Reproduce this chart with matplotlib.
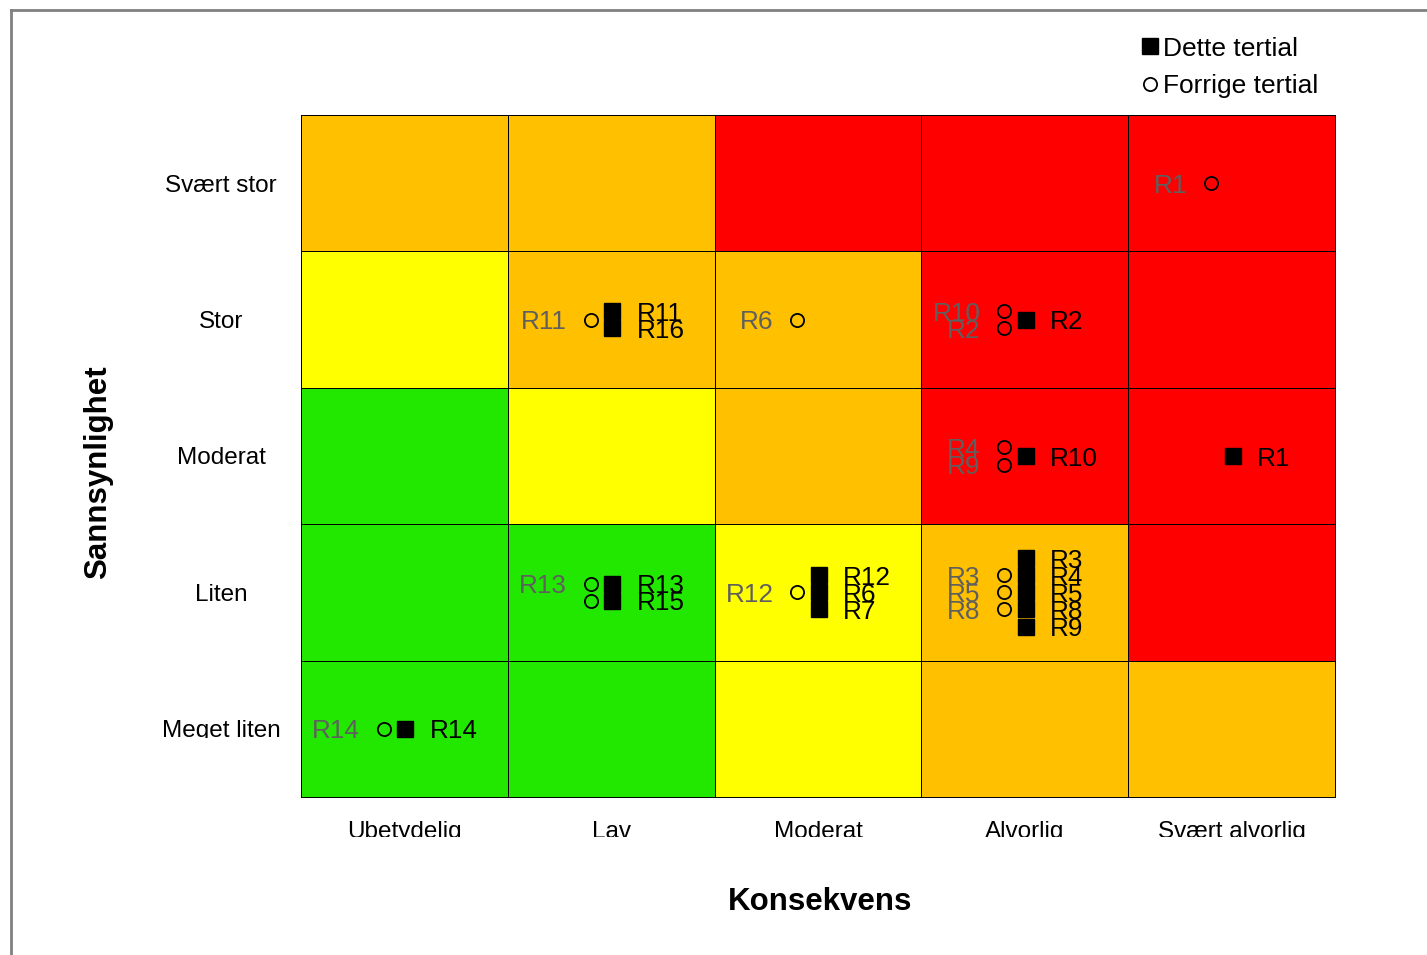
import numpy as np
import matplotlib
matplotlib.use('Agg')
import matplotlib.pyplot as plt
from matplotlib.colors import ListedColormap
from matplotlib.transforms import Bbox, TransformedBbox, blended_transform_factory

plt.rcParams['font.family'] = ['Liberation Sans', 'DejaVu Sans']

# Axes categories
consequence = ['Ubetydelig', 'Lav', 'Moderat', 'Alvorlig', 'Svært alvorlig']
probability = ['Meget liten', 'Liten', 'Moderat', 'Stor', 'Svært stor']

# Cell colour level per row (bottom -> top), per column (left -> right)
# 0 = green, 1 = yellow, 2 = orange, 3 = red
levels = [
    [0, 0, 1, 2, 2],   # Meget liten
    [0, 0, 1, 2, 3],   # Liten
    [0, 1, 2, 3, 3],   # Moderat
    [1, 2, 2, 3, 3],   # Stor
    [2, 2, 3, 3, 3],   # Svært stor
]
level_colors = ['#22E800', '#FFFF00', '#FFC000', '#FF0000']

# Dette tertial: label, consequence (1-5), probability (1-5)
cur_labels = ['R1', 'R2', 'R10', 'R11', 'R16', 'R13', 'R15', 'R12', 'R6', 'R7',
              'R3', 'R4', 'R5', 'R8', 'R9', 'R14']
cur_cons = [5, 4, 4, 2, 2, 2, 2, 3, 3, 3, 4, 4, 4, 4, 4, 1]
cur_prob = [3, 4, 3, 4, 4, 2, 2, 2, 2, 2, 2, 2, 2, 2, 2, 1]

# Forrige tertial
prev_labels = ['R1', 'R10', 'R2', 'R4', 'R9', 'R11', 'R6', 'R13', '', 'R12',
               'R3', 'R5', 'R8', 'R14']
prev_cons = [5, 4, 4, 4, 4, 2, 3, 2, 2, 3, 4, 4, 4, 1]
prev_prob = [5, 4, 4, 3, 3, 4, 4, 2, 2, 2, 2, 2, 2, 1]

DY = 0.125       # vertical step between stacked markers
CIRC_DX = -0.10
SQ_DX = 0.005
GRAY_DX = -0.215
BLACK_DX = 0.122
FS = 17.5        # category labels
FS_R = 18.8      # risk labels


def stacked(cons, prob):
    # position each marker in its cell, stacking duplicates around the centre
    xs, ys = [], []
    for c, p in zip(cons, prob):
        n = sum(1 for c2, p2 in zip(cons, prob) if (c2, p2) == (c, p))
        k = sum(1 for c2, p2 in zip(cons[:len(xs)], prob[:len(xs)]) if (c2, p2) == (c, p))
        xs.append(c - 0.5)
        ys.append(p - 0.5 + ((n - 1) / 2 - k) * DY)
    return np.array(xs), np.array(ys)


fig = plt.figure(figsize=(14.27, 9.55), dpi=100)
W, H = 1427, 955

# gray outer frame
fig.add_artist(plt.Line2D([11 / W, 11 / W], [0, 1 - 10 / H], color='#808080', lw=2))
fig.add_artist(plt.Line2D([11 / W, 1], [1 - 10 / H, 1 - 10 / H], color='#808080', lw=2))

ax = fig.add_axes([301 / W, 1 - 797 / H, 1034 / W, 682 / H])
cmap = ListedColormap(level_colors)
ax.pcolormesh(np.arange(6), np.arange(6), np.array(levels), cmap=cmap, vmin=-0.5, vmax=3.5,
              edgecolors='black', linewidth=0.7)
ax.set_xlim(0, 5)
ax.set_ylim(0, 5)
ax.set_xticks([])
ax.set_yticks([])
for s in ax.spines.values():
    s.set_linewidth(0.7)

# previous period
px, py = stacked(prev_cons, prev_prob)
ax.plot(px + CIRC_DX, py, 'o', ms=9.5, mfc='none', mec='black', mew=1.3, ls='none')
for x, y, lab in zip(px, py, prev_labels):
    ax.text(x + GRAY_DX, y, lab, color='#5f5f5f', fontsize=FS_R, ha='right', va='center_baseline')

# current period
cx, cy = stacked(cur_cons, cur_prob)
ax.plot(cx + SQ_DX, cy, 's', ms=12.2, color='black', ls='none')
for x, y, lab in zip(cx, cy, cur_labels):
    ax.text(x + BLACK_DX, y, lab, color='black', fontsize=FS_R, ha='left', va='center_baseline')

# category labels (clipped at the bottom like the original)
for i, name in enumerate(consequence):
    t = ax.text(i + 0.5, -0.235, name, fontsize=FS, ha='center', va='center_baseline')
    t.set_clip_box(TransformedBbox(Bbox([[0, 1 - 837 / H], [1, 1]]), fig.transFigure))
    t.set_clip_on(True)
for j, name in enumerate(probability):
    t = fig.text(221 / W, j + 0.5, name, fontsize=FS, ha='center', va='center_baseline',
                 transform=blended_transform_factory(fig.transFigure, ax.transData))
    if j == 0:
        t.set_clip_box(TransformedBbox(Bbox([[0, 1 - 738 / H], [1, 1]]), fig.transFigure))
        t.set_clip_on(True)

fig.text(820 / W, 1 - 898 / H, 'Konsekvens', fontsize=22.5, fontweight='bold',
         ha='center', va='center_baseline')
fig.text(98 / W, 1 - 472 / H, 'Sannsynlighet', fontsize=22.5, fontweight='bold',
         ha='center', va='center', rotation=90)

# legend
fig.add_artist(plt.Line2D([1150 / W], [1 - 46 / H], marker='s', ms=11.5, color='black', ls='none'))
fig.add_artist(plt.Line2D([1150 / W], [1 - 84 / H], marker='o', ms=9.5, mfc='none', mec='black',
                          mew=1.3, ls='none'))
fig.text(1163 / W, 1 - 46 / H, 'Dette tertial', fontsize=19, ha='left', va='center_baseline')
fig.text(1163 / W, 1 - 84 / H, 'Forrige tertial', fontsize=19, ha='left', va='center_baseline')

fig.savefig('out.png', dpi=100)
